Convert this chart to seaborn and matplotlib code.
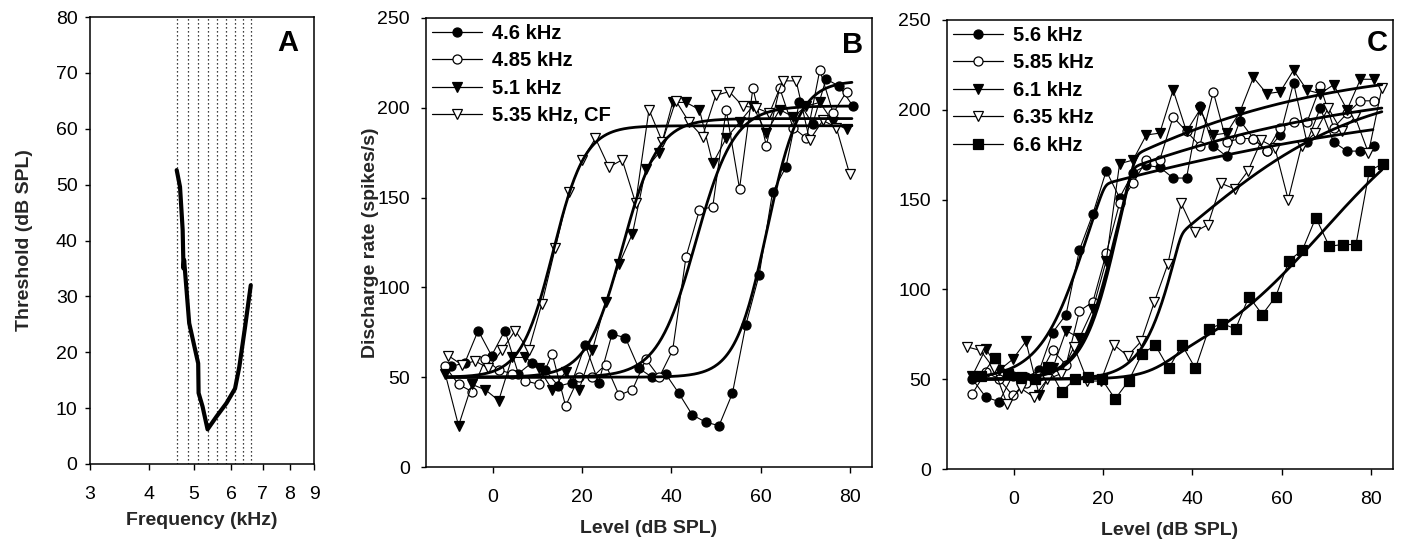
import numpy as np
import matplotlib
matplotlib.use("Agg")
import matplotlib.pyplot as plt
import seaborn as sns
from matplotlib.lines import Line2D
from matplotlib.ticker import FixedLocator, NullLocator, FixedFormatter

# ---------------- data ----------------
# Panel A: tuning curve
TC_FREQ = [4.59, 4.665, 4.726, 4.745, 4.76, 4.88, 5.10, 5.11, 5.21, 5.34, 5.58, 5.86, 6.11, 6.24, 6.42, 6.60]
TC_THR = [52.6, 49.6, 41.9, 35.0, 36.5, 25.2, 18.0, 12.7, 10.3, 6.2, 8.5, 10.9, 13.5, 17.4, 24.6, 32.0]
PROBE_FREQS = [4.6, 4.85, 5.1, 5.35, 5.6, 5.85, 6.1, 6.35, 6.6]
A_XTICKS = [3, 4, 5, 6, 7, 8, 9]
A_YTICKS = [0, 10, 20, 30, 40, 50, 60, 70, 80]

# Panel B: rate-level functions below / at CF
B_LABELS = ["4.6 kHz", "4.85 kHz", "5.1 kHz", "5.35 kHz, CF"]
B_LV_46 = [-9.3, -6.3, -3.3, -0.3, 2.7, 5.7, 8.7, 11.7, 14.7, 17.7, 20.7, 23.7, 26.7, 29.7, 32.7, 35.7,
           38.7, 41.7, 44.7, 47.7, 50.7, 53.7, 56.7, 59.7, 62.7, 65.7, 68.7, 71.7, 74.7, 77.7, 80.7]
B_R_46 = [56, 58, 76, 62, 76, 52, 58, 54, 45, 47, 68, 47, 74, 72, 55, 50,
          52, 41, 29, 25, 23, 41, 79, 107, 153, 167, 203, 191, 216, 212, 201]
B_LV_485 = [-10.7, -7.7, -4.7, -1.7, 1.3, 4.3, 7.3, 10.3, 13.3, 16.3, 19.3, 22.3, 25.3, 28.3, 31.3, 34.3,
            37.3, 40.3, 43.3, 46.3, 49.3, 52.3, 55.3, 58.3, 61.3, 64.3, 67.3, 70.3, 73.3, 76.3, 79.3]
B_R_485 = [56, 46, 42, 60, 54, 52, 48, 46, 63, 34, 50, 50, 57, 40, 43, 60,
           50, 65, 117, 143, 145, 199, 155, 211, 179, 211, 189, 183, 221, 197, 209]
B_LV_51 = [-10.7, -7.7, -4.7, -1.7, 1.3, 4.3, 7.3, 10.3, 13.3, 16.3, 19.3, 22.3, 25.3, 28.3, 31.3, 34.3,
           37.3, 40.3, 43.3, 46.3, 49.3, 52.3, 55.3, 58.3, 61.3, 64.3, 67.3, 70.3, 73.3, 76.3, 79.3]
B_R_51 = [52, 23, 46, 43, 37, 61, 61, 55, 43, 53, 43, 65, 92, 113, 130, 166,
          175, 203, 203, 199, 169, 183, 192, 201, 186, 199, 195, 201, 203, 192, 188]
B_LV_535 = [-10, -7, -4, -1, 2, 5, 8, 11, 14, 17, 20, 23, 26, 29, 32, 35,
            38, 41, 44, 47, 50, 53, 56, 59, 62, 65, 68, 71, 74, 77, 80]
B_R_535 = [62, 57, 59, 55, 65, 76, 65, 91, 122, 153, 171, 183, 167, 171, 147, 199,
           181, 204, 192, 184, 207, 209, 201, 200, 197, 215, 215, 182, 193, 189, 163]
# fitted model parameters: spont, max, midpoint (dB), slope (dB), knee (dB), compression, knee width (dB)
B_FIT_46 = [50, 215, 61.5, 3.6, 200, 1.0, 0.5]
B_FIT_485 = [50, 201, 45.5, 4.3, 200, 1.0, 0.5]
B_FIT_51 = [50, 194, 29.0, 4.0, 200, 1.0, 0.5]
B_FIT_535 = [50, 190, 13.5, 3.6, 200, 1.0, 0.5]

# Panel C: rate-level functions above CF
C_LABELS = ["5.6 kHz", "5.85 kHz", "6.1 kHz", "6.35 kHz", "6.6 kHz"]
C_LV_56 = [-9.3, -6.3, -3.3, -0.3, 2.7, 5.7, 8.7, 11.7, 14.7, 17.7, 20.7, 23.7, 26.7, 29.7, 32.7, 35.7,
           38.7, 41.7, 44.7, 47.7, 50.7, 53.7, 56.7, 59.7, 62.7, 65.7, 68.7, 71.7, 74.7, 77.7, 80.7]
C_R_56 = [50, 40, 37.5, 52, 51, 55, 76, 86, 122, 142, 166, 151, 165, 169, 168, 162,
          162, 202, 180, 174, 194, 184, 177, 186, 215, 182, 201, 182, 177, 177, 180]
C_LV_585 = [-9.3, -6.3, -3.3, -0.3, 2.7, 5.7, 8.7, 11.7, 14.7, 17.7, 20.7, 23.7, 26.7, 29.7, 32.7, 35.7,
            38.7, 41.7, 44.7, 47.7, 50.7, 53.7, 56.7, 59.7, 62.7, 65.7, 68.7, 71.7, 74.7, 77.7, 80.7]
C_R_585 = [42, 54, 50, 41, 48, 52, 66, 58, 88, 93, 120, 148, 159, 172, 172, 196,
           188, 180, 210, 182, 184, 184, 177, 190, 193, 193, 213, 190, 198, 205, 205]
C_LV_61 = [-9.3, -6.3, -3.3, -0.3, 2.7, 5.7, 8.7, 11.7, 14.7, 17.7, 20.7, 23.7, 26.7, 29.7, 32.7, 35.7,
           38.7, 41.7, 44.7, 47.7, 50.7, 53.7, 56.7, 59.7, 62.7, 65.7, 68.7, 71.7, 74.7, 77.7, 80.7]
C_R_61 = [52, 67, 55, 61, 71, 41, 56, 77, 73, 89, 116, 170, 172, 186, 187, 211,
          188, 200, 186, 187, 199, 218, 209, 210, 222, 211, 209, 214, 200, 217, 217]
C_LV_635 = [-10.5, -7.5, -4.5, -1.5, 1.5, 4.5, 7.5, 10.5, 13.5, 16.5, 19.5, 22.5, 25.5, 28.5, 31.5, 34.5,
            37.5, 40.5, 43.5, 46.5, 49.5, 52.5, 55.5, 58.5, 61.5, 64.5, 67.5, 70.5, 73.5, 76.5, 79.5, 82.5]
C_R_635 = [68, 66, 56, 36, 45, 40, 50, 53, 68, 49, 49, 69, 63, 71, 93, 114,
           148, 132, 136, 159, 156, 166, 183, 179, 150, 180, 187, 201, 188, 196, 176, 212]
C_LV_66 = [-7.3, -4.3, -1.3, 1.7, 4.7, 7.7, 10.7, 13.7, 16.7, 19.7, 22.7, 25.7, 28.7, 31.7, 34.7, 37.7,
           40.7, 43.7, 46.7, 49.7, 52.7, 55.7, 58.7, 61.7, 64.7, 67.7, 70.7, 73.7, 76.7, 79.7, 82.7]
C_R_66 = [52, 62, 53, 51, 50, 57, 43, 50, 51, 50, 39, 49, 64, 69, 56, 69,
          56, 78, 81, 78, 96, 86, 96, 116, 122, 140, 124, 125, 125, 166, 170]
C_FIT_56 = [50, 210, 16.5, 5.3, 20.5, 0.10, 0.4]
C_FIT_585 = [50, 215, 23.0, 4.0, 26.7, 0.104, 0.4]
C_FIT_61 = [50, 225, 23.7, 4.0, 27.4, 0.129, 0.4]
C_FIT_635 = [50, 215, 37.6, 4.2, 37.5, 0.21, 0.4]
C_FIT_66 = [50, 215, 46.0, 4.5, 36.0, 0.30, 2.5]

LEVEL_TICKS = [0, 20, 40, 60, 80]
RATE_TICKS = [0, 50, 100, 150, 200, 250]


def model_rate(levels, p):
    b, m, x0, s, knee, c, w = p
    lv = np.asarray(levels, dtype=float)
    over = w * np.logaddexp(0.0, (lv - knee) / w)
    eff = lv - (1.0 - c) * over
    return b + (m - b) / (1.0 + np.exp(-(eff - x0) / s))


# ---------------- style ----------------
sns.set_theme(style="ticks")
plt.rcParams["font.family"] = ["Liberation Sans", "DejaVu Sans"]
plt.rcParams.update({
    "axes.linewidth": 1.1,
    "xtick.major.width": 1.0,
    "ytick.major.width": 1.0,
    "xtick.major.size": 4,
    "ytick.major.size": 3.5,
    "xtick.labelsize": 14,
    "ytick.labelsize": 14,
    "xtick.color": "black",
    "ytick.color": "black",
    "axes.edgecolor": "black",
    "text.color": "black",
})

W, H = 1402, 542
fig = plt.figure(figsize=(W / 100, H / 100), dpi=100)


def add_ax(l, t, r, b):
    return fig.add_axes([l / W, 1 - b / H, (r - l) / W, (b - t) / H])


axA = add_ax(90, 17, 314, 464)
axB = add_ax(426, 18, 872, 467)
axC = add_ax(947, 20, 1393, 469)

LBL = dict(fontsize=14, fontweight="bold")

# ---------------- Panel A ----------------
for f in PROBE_FREQS:
    axA.axvline(f, color="black", lw=0.9, ls=(0, (1, 2.2)), zorder=1)
sns.lineplot(x=TC_FREQ, y=TC_THR, ax=axA, sort=False, estimator=None,
             color="black", lw=3.0, zorder=3)
axA.set_xscale("log")
axA.set_xlim(3, 9)
axA.set_ylim(0, 80)
axA.xaxis.set_major_locator(FixedLocator(A_XTICKS))
axA.xaxis.set_major_formatter(FixedFormatter([str(t) for t in A_XTICKS]))
axA.xaxis.set_minor_locator(NullLocator())
axA.set_yticks(A_YTICKS)
axA.tick_params(axis="x", pad=11.5)
axA.tick_params(axis="y", pad=5.5)
axA.set_xlabel("Frequency (kHz)", **LBL)
axA.set_ylabel("Threshold (dB SPL)", **LBL)
axA.xaxis.set_label_coords(0.5, -0.108)
axA.yaxis.set_label_coords(-0.255, 0.5)
axA.text(0.885, 0.942, "A", transform=axA.transAxes, fontsize=21, fontweight="bold",
         ha="center", va="center")

# ---------------- Panels B and C ----------------
MK = dict(color="black", lw=0.8, markersize=6.5, markeredgecolor="black",
          markeredgewidth=0.9)


def draw_series(ax, lv, rates, marker, filled, fitp, fit_range, label):
    fc = "black" if filled else "white"
    sns.lineplot(x=lv, y=rates, ax=ax, marker=marker, markerfacecolor=fc,
                 estimator=None, zorder=4, **MK)
    xs = np.linspace(fit_range[0], fit_range[1], 400)
    sns.lineplot(x=xs, y=model_rate(xs, fitp), ax=ax, color="black", lw=2.0,
                 estimator=None, zorder=5)
    return Line2D([], [], color="black", lw=0.9, marker=marker, markersize=6.5,
                  markerfacecolor=fc, markeredgecolor="black", markeredgewidth=0.9,
                  label=label)


handlesB = [
    draw_series(axB, B_LV_46, B_R_46, "o", True, B_FIT_46, (-10.5, 80.5), B_LABELS[0]),
    draw_series(axB, B_LV_485, B_R_485, "o", False, B_FIT_485, (-10.5, 80.5), B_LABELS[1]),
    draw_series(axB, B_LV_51, B_R_51, "v", True, B_FIT_51, (-10.5, 80.5), B_LABELS[2]),
    draw_series(axB, B_LV_535, B_R_535, "v", False, B_FIT_535, (-10.5, 80.5), B_LABELS[3]),
]
handlesC = [
    draw_series(axC, C_LV_56, C_R_56, "o", True, C_FIT_56, (-9.5, 80.5), C_LABELS[0]),
    draw_series(axC, C_LV_585, C_R_585, "o", False, C_FIT_585, (-9.5, 82.5), C_LABELS[1]),
    draw_series(axC, C_LV_61, C_R_61, "v", True, C_FIT_61, (-9.5, 82.5), C_LABELS[2]),
    draw_series(axC, C_LV_635, C_R_635, "v", False, C_FIT_635, (-9.5, 82.5), C_LABELS[3]),
    draw_series(axC, C_LV_66, C_R_66, "s", True, C_FIT_66, (-9.5, 82.5), C_LABELS[4]),
]

for ax, handles, letter, lx, ly in [(axB, handlesB, "B", 0.957, 0.94),
                                     (axC, handlesC, "C", 0.964, 0.948)]:
    ax.set_xlim(-15, 85)
    ax.set_ylim(0, 250)
    ax.set_xticks(LEVEL_TICKS)
    ax.set_yticks(RATE_TICKS)
    ax.tick_params(axis="x", pad=11.5)
    ax.tick_params(axis="y", pad=8)
    ax.set_xlabel("Level (dB SPL)", **LBL)
    ax.xaxis.set_label_coords(0.5, -0.118)
    leg = ax.legend(handles=handles, loc="upper left", frameon=False,
                    prop=dict(size=14.5, weight="bold"), handlelength=2.5,
                    handletextpad=0.5, labelspacing=0.42, borderaxespad=0.1,
                    borderpad=0.2)
    ax.text(lx, ly, letter, transform=ax.transAxes, fontsize=21, fontweight="bold",
            ha="center", va="center")

axB.set_ylabel("Discharge rate (spikes/s)", **LBL)
axB.yaxis.set_label_coords(-0.105, 0.5)
axC.set_ylabel("")

for ax in (axA, axB, axC):
    for sp in ax.spines.values():
        sp.set_visible(True)
        sp.set_color("black")
    ax.tick_params(top=False, right=False, direction="out")

fig.savefig("out.png", dpi=100)
